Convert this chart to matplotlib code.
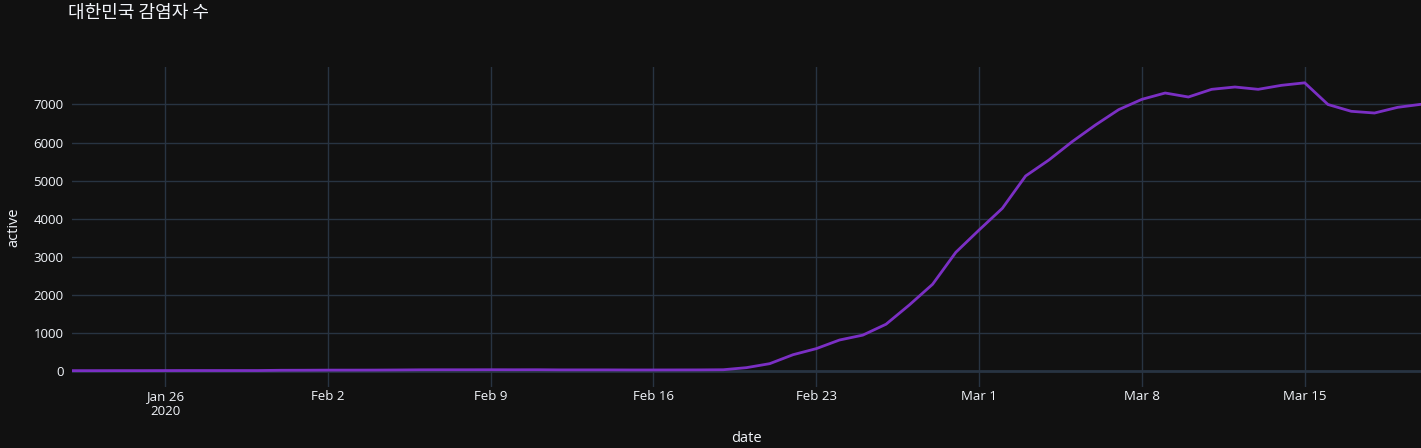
import numpy as np
import pandas as pd
import matplotlib
matplotlib.use("Agg")
import matplotlib.pyplot as plt

# active cases in Korea (Jan 22 .. Mar 20, 2020)
dates = pd.date_range("2020-01-22", "2020-03-20", freq="D")
active = [1, 1, 2, 2, 3, 4, 4, 4, 4, 11,
          12, 15, 15, 16, 19, 23, 24, 24, 25, 24,
          25, 21, 21, 21, 19, 19, 20, 21, 25, 80,
          185, 420, 580, 807, 935, 1222, 1728, 2272, 3113, 3700,
          4270, 5120, 5540, 6022, 6460, 6864, 7136, 7302, 7197, 7399,
          7460, 7399, 7504, 7570, 7000, 6821, 6776, 6926, 7005]

tick_dates = pd.to_datetime(["2020-01-26", "2020-02-02", "2020-02-09", "2020-02-16",
                             "2020-02-23", "2020-03-01", "2020-03-08", "2020-03-15"])
tick_labels = ["Jan 26\n2020", "Feb 2", "Feb 9", "Feb 16", "Feb 23", "Mar 1", "Mar 8", "Mar 15"]
y_ticks = [0, 1000, 2000, 3000, 4000, 5000, 6000, 7000]

bg = "#111111"
grid = "#283442"
txt = "#f2f5fa"

plt.rcParams['font.family'] = ['Open Sans', 'DejaVu Sans']

fig = plt.figure(figsize=(14.21, 4.48), dpi=100, facecolor=bg)
ax = fig.add_axes([72 / 1421, 61 / 448, 1 - 72 / 1421, 320 / 448])
ax.set_facecolor(bg)

ax.plot(dates, active, color="#7b2fc4", lw=2, zorder=3)

ax.set_xlim(dates[0], dates[-1])
ax.set_ylim(-429, 7986)
ax.set_xticks(tick_dates)
ax.set_xticklabels(tick_labels, linespacing=1.25)
ax.set_yticks(y_ticks)
ax.set_yticklabels([str(v) for v in y_ticks])

ax.grid(True, color=grid, lw=1, zorder=0)
ax.axhline(0, color=grid, lw=2, zorder=1)
for s in ax.spines.values():
    s.set_visible(False)
ax.tick_params(colors=txt, labelsize=9.5, length=0, pad=6)
ax.tick_params(axis='x', pad=2)

ax.set_xlabel("date", color=txt, fontsize=10.5, labelpad=9)
ax.set_ylabel("active", color=txt, fontsize=10.5, labelpad=9)

fig.text(68 / 1421, 1 - 13 / 448, "대한민국 감염자 수", color=txt, fontsize=13,
         family=['Noto Sans CJK KR', 'DejaVu Sans'], va='center', ha='left')

fig.savefig("out.png", dpi=100, facecolor=bg)
